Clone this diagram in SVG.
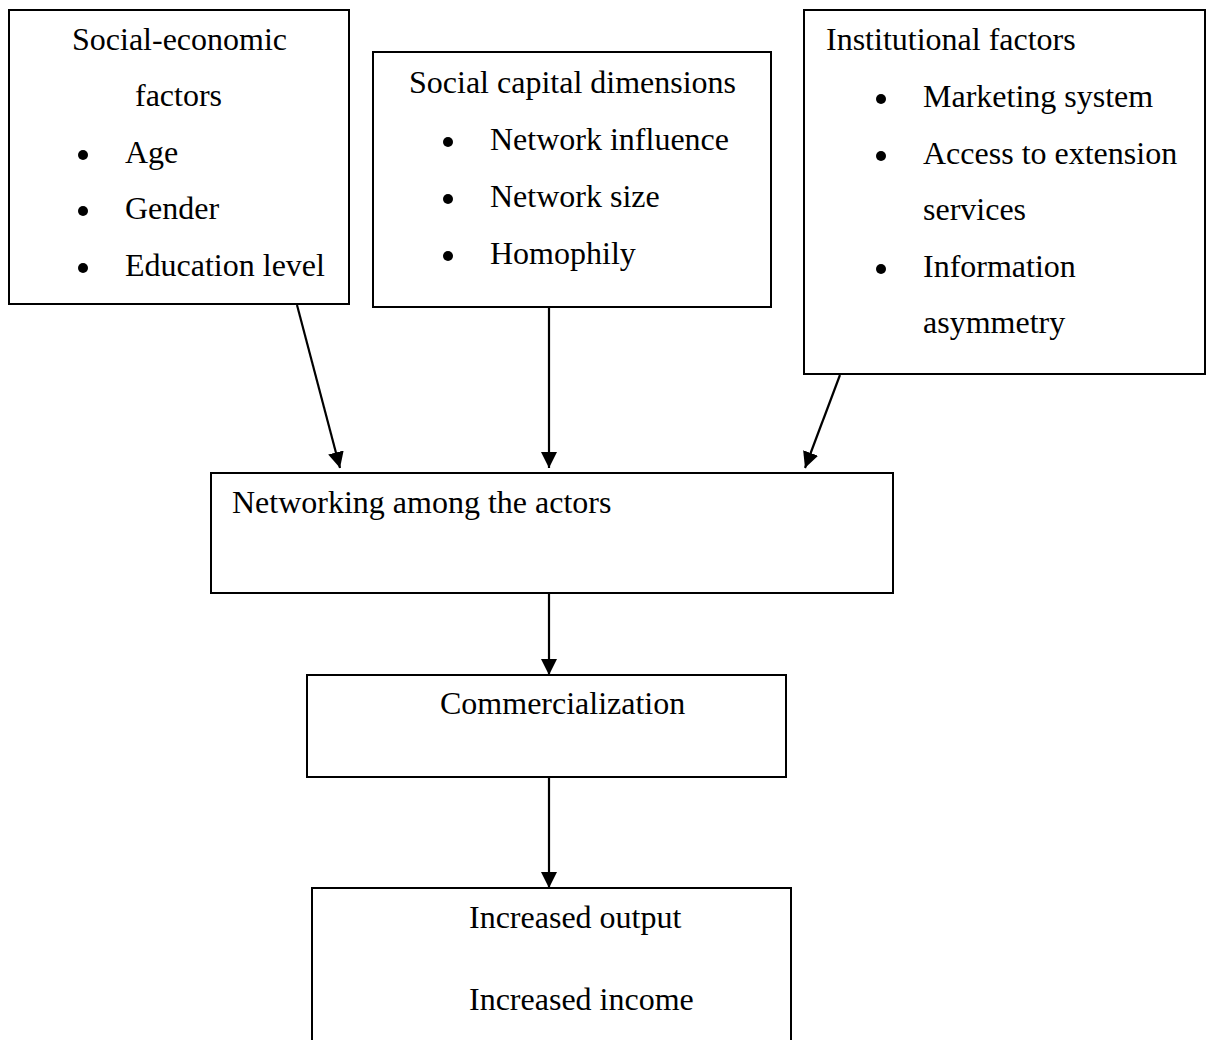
<svg xmlns="http://www.w3.org/2000/svg" width="1206" height="1040" viewBox="0 0 1206 1040">
<style>
.box{fill:#fff;stroke:#000;stroke-width:2}
.t{font-family:"Liberation Serif","Times New Roman",serif;font-size:32px;fill:#000}
.conn{stroke:#000;stroke-width:2.2;fill:none;marker-end:url(#ah)}
.b{fill:#000}
</style>
<defs>
<marker id="ah" markerUnits="userSpaceOnUse" markerWidth="18" markerHeight="18" viewBox="0 0 18 18" refX="16" refY="9" orient="auto">
<path d="M0,1 L16,9 L0,17 Z" fill="#000"/>
</marker>
</defs>
<rect width="1206" height="1040" fill="#fff"/>
<g id="socio">
<rect class="box" x="9" y="10" width="340" height="294"/>
<text class="t" x="72" y="50">Social-economic</text>
<text class="t" x="135" y="106">factors</text>
<circle class="b" cx="83" cy="155" r="5"/><text class="t" x="125" y="163">Age</text>
<circle class="b" cx="83" cy="211" r="5"/><text class="t" x="125" y="219">Gender</text>
<circle class="b" cx="83" cy="268" r="5"/><text class="t" x="125" y="276">Education level</text>
</g>
<g id="social-capital">
<rect class="box" x="373" y="52" width="398" height="255"/>
<text class="t" x="409" y="93">Social capital dimensions</text>
<circle class="b" cx="448" cy="142" r="5"/><text class="t" x="490" y="150">Network influence</text>
<circle class="b" cx="448" cy="199" r="5"/><text class="t" x="490" y="207">Network size</text>
<circle class="b" cx="448" cy="256" r="5"/><text class="t" x="490" y="264">Homophily</text>
</g>
<g id="institutional">
<rect class="box" x="804" y="10" width="401" height="364"/>
<text class="t" x="826" y="50">Institutional factors</text>
<circle class="b" cx="881" cy="99" r="5"/><text class="t" x="923" y="107">Marketing system</text>
<circle class="b" cx="881" cy="156" r="5"/><text class="t" x="923" y="164">Access to extension</text>
<text class="t" x="923" y="220">services</text>
<circle class="b" cx="881" cy="269" r="5"/><text class="t" x="923" y="277">Information</text>
<text class="t" x="923" y="333">asymmetry</text>
</g>
<g id="networking">
<rect class="box" x="211" y="473" width="682" height="120"/>
<text class="t" x="232" y="513">Networking among the actors</text>
</g>
<g id="commercialization">
<rect class="box" x="307" y="675" width="479" height="102"/>
<text class="t" x="440" y="714">Commercialization</text>
</g>
<g id="outcome">
<rect class="box" x="312" y="888" width="479" height="160"/>
<text class="t" x="469" y="928">Increased output</text>
<text class="t" x="469" y="1010">Increased income</text>
</g>
<g id="connectors">
<line class="conn" x1="297" y1="305" x2="340" y2="468"/>
<line class="conn" x1="549" y1="307" x2="549" y2="468"/>
<line class="conn" x1="840" y1="375" x2="805" y2="468"/>
<line class="conn" x1="549" y1="594" x2="549" y2="675"/>
<line class="conn" x1="549" y1="778" x2="549" y2="888"/>
</g>
</svg>
